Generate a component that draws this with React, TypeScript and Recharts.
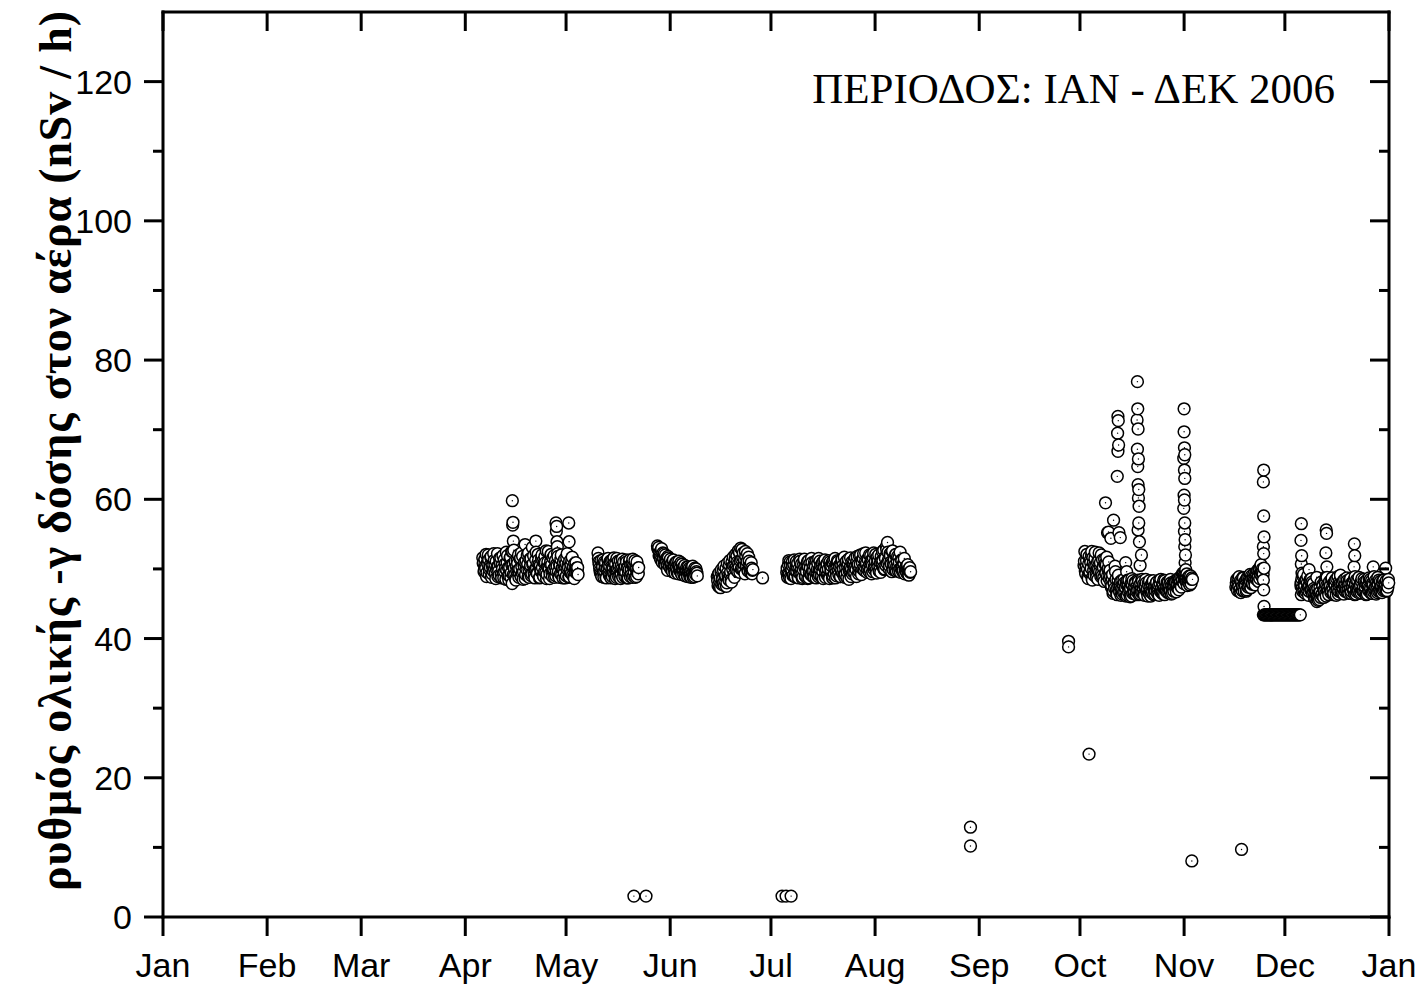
import React from "react";
import { ScatterChart, Scatter, XAxis, YAxis } from "recharts";

// x = day of year 2006 (0 = 1 Jan), y = dose rate in nSv/h
const monthTicks = [0, 31, 59, 90, 120, 151, 181, 212, 243, 273, 304, 334, 365];
const monthLabels = ["Jan", "Feb", "Mar", "Apr", "May", "Jun", "Jul", "Aug", "Sep", "Oct", "Nov", "Dec", "Jan"];
const doseTicks = [0, 10, 20, 30, 40, 50, 60, 70, 80, 90, 100, 110, 120];

// continuous runs of readings, every 6 hours (A) and the 3-hour readings in between (B)
const aprValues = [
  51.6, 50.9, 49.8, 50.4, 52.1, 49.5, 50.7, 51.3, 49.9, 50.2, 51.8, 49.3, 50.6, 52.2, 50.0, 49.4,
  51.1, 50.3, 48.9, 49.7, 51.5, 50.8, 49.2, 50.5, 51.9, 48.7, 49.6, 50.1, 52.4, 50.9, 49.0, 48.4,
  50.2, 51.7, 49.5, 47.9, 50.6, 52.7, 49.1, 48.6, 50.4, 51.2, 49.8, 48.8, 50.0, 51.6, 52.3, 49.4,
  48.5, 50.7, 51.0, 49.2, 50.3, 52.0, 48.9, 49.9, 51.4, 50.5, 49.0, 53.1, 50.8, 49.6, 48.7, 51.3,
  50.1, 49.3, 52.1, 50.6, 48.8, 49.7, 51.5, 50.2, 49.1, 50.9, 51.8, 49.5, 48.6, 50.4, 52.5, 50.0,
  49.3, 51.1, 50.6, 48.9, 49.8, 51.9, 50.3, 49.0, 50.7, 52.2, 49.6, 48.8, 50.5, 51.4, 49.2, 50.1,
  51.0, 49.4, 48.7, 50.8, 51.6, 49.9, 50.2, 48.9, 49.5, 50.6, 51.2, 49.1, 50.3, 48.6, 49.8, 50.9,
  49.4, 50.2,
];
const aprValuesB = [
  50.8, 49.6, 51.4, 50.1, 48.9, 51.0, 52.0, 49.3, 50.5, 51.7, 48.8, 50.3, 49.7, 51.2, 50.6, 48.6,
  49.9, 52.2, 50.4, 49.1, 50.9, 51.6, 48.7, 50.0, 49.4, 51.3, 50.7, 48.5, 49.8, 51.9, 50.2, 49.0,
  51.5, 48.8, 50.6, 52.5, 49.2, 50.1, 51.1, 48.4, 49.7, 50.8, 52.0, 49.5, 51.4, 48.9, 50.3, 51.8,
  49.6, 50.4, 48.6, 51.2, 49.9, 50.7, 52.3, 48.8, 50.2, 51.5, 49.3, 50.6, 51.9, 49.1, 50.0, 52.4,
  49.4, 50.8, 51.3, 48.7, 50.5, 49.8, 52.0, 51.1, 48.9, 49.6, 50.9, 52.6, 49.2, 51.0, 50.3, 48.6,
  50.7, 52.1, 49.5, 51.6, 50.0, 48.8, 51.2, 49.7, 50.4, 51.8, 48.9, 50.6, 49.3, 52.0, 50.1, 48.7,
  49.9, 51.4, 50.3, 49.0, 52.2, 50.5, 48.8, 51.1, 50.0, 49.4, 51.7, 50.2, 48.9, 50.8, 49.5, 50.1,
  49.7, 49.2,
];
const mayValues = [
  52.3, 51.0, 50.1, 49.4, 49.2, 50.6, 51.3, 48.8, 49.6, 50.9, 48.7, 50.2, 51.5, 49.5, 50.4, 49.0,
  51.2, 48.9, 50.0, 51.6, 49.3, 50.7, 48.8, 49.8, 51.1, 50.3, 49.1, 48.6, 50.5, 51.4, 49.7, 50.0,
  48.9, 49.5, 51.0, 50.2, 48.7, 49.9, 51.3, 50.6, 49.2, 48.8, 50.4, 49.6, 51.2, 50.1, 48.9, 49.7,
  49.3,
];
const mayValuesB = [
  51.5, 50.6, 49.7, 51.2, 48.9, 50.3, 49.5, 51.0, 50.2, 48.8, 49.9, 51.4, 50.5, 49.1, 51.1, 48.7,
  50.0, 51.3, 49.4, 50.8, 48.6, 49.7, 51.5, 50.1, 48.9, 50.6, 51.2, 49.3, 50.0, 48.8, 51.0, 49.6,
  50.4, 51.3, 48.7, 50.1, 49.5, 51.1, 48.9, 49.8, 50.7, 51.4, 49.0, 50.3, 48.8, 49.9, 51.0, 49.4,
  50.2,
];
const junValues = [
  53.3, 52.8, 51.9, 52.4, 51.3, 52.9, 50.9, 51.7, 52.2, 50.6, 51.4, 51.0, 49.8, 51.6, 50.4, 51.1,
  50.0, 50.8, 49.6, 51.3, 50.2, 49.4, 50.7, 51.0, 49.9, 49.3, 50.5, 49.7, 50.9, 49.2, 50.1, 49.6,
  50.4, 49.0, 49.8, 50.3, 48.9, 49.5, 50.1, 49.2, 48.8, 49.9, 50.4, 49.1, 48.9, 49.6, 50.0, 49.4,
];
const junValuesB = [
  52.9, 53.1, 52.2, 51.6, 52.7, 51.1, 52.3, 51.5, 50.8, 52.0, 51.2, 50.5, 51.8, 50.9, 50.3, 51.4,
  50.6, 49.9, 51.2, 50.4, 49.7, 50.9, 50.1, 49.5, 50.6, 51.1, 49.8, 50.3, 49.4, 50.7, 49.9, 49.2,
  50.5, 49.6, 50.0, 49.1, 50.3, 49.7, 48.9, 49.9, 50.2, 49.3, 48.8, 49.7, 50.1, 49.2, 49.6, 49.0,
];
const junLateValues = [
  48.9, 47.6, 49.4, 48.2, 47.3, 49.9, 48.6, 47.9, 50.4, 48.3, 49.1, 47.5, 50.8, 49.0, 48.4, 51.2,
  49.6, 48.1, 50.3, 51.7, 49.2, 50.6, 52.1, 49.8, 51.0, 52.6, 50.2, 49.5, 53.0, 51.4, 50.0, 52.3,
  50.7, 49.3, 51.8, 50.4, 52.2, 49.7, 51.1, 50.5, 49.4, 50.1, 49.8,
];
const junLateValuesB = [
  48.3, 49.2, 47.4, 48.7, 49.6, 47.8, 48.5, 49.8, 47.6, 48.9, 50.1, 48.0, 49.5, 48.6, 50.6, 49.2,
  48.4, 51.0, 49.9, 50.5, 48.8, 51.5, 50.3, 51.9, 49.6, 50.8, 52.4, 51.2, 50.0, 52.8, 51.6, 49.9,
  51.3, 52.5, 50.6, 51.1, 49.8, 51.7, 50.2, 49.6, 50.9, 49.3, 49.9,
];
const julValues = [
  49.5, 48.8, 50.6, 49.2, 51.0, 48.6, 49.9, 50.4, 49.1, 51.3, 48.9, 50.2, 49.6, 50.8, 48.7, 49.4,
  51.1, 50.0, 49.3, 48.8, 50.7, 51.4, 49.0, 49.8, 50.5, 48.6, 51.2, 49.5, 50.1, 49.2, 50.9, 48.9,
  49.7, 51.0, 50.3, 48.7, 49.4, 50.8, 51.5, 49.1, 50.0, 48.9, 50.6, 49.6, 51.1, 50.2, 48.8, 49.9,
  50.7, 49.3, 51.2, 48.6, 50.4, 49.8, 50.9, 49.0, 51.3, 50.1, 48.7, 49.5, 50.6, 51.0, 49.2, 50.3,
  48.9, 49.7, 51.4, 50.5, 49.1, 48.8, 50.2, 51.1, 49.6, 50.8, 48.5, 49.9, 51.6, 50.0, 49.3, 50.7,
  51.2, 49.4, 50.4, 48.9, 51.8, 50.6, 49.7, 50.1, 52.0, 49.2, 50.9, 51.5, 49.8, 50.3, 52.3, 50.8,
  50.0, 51.3, 49.6, 50.7, 51.9, 49.3, 50.5, 51.6, 49.9, 50.2, 52.1, 49.4, 50.8, 51.2, 49.7, 50.4,
  49.5, 51.1, 52.5, 50.2, 49.9, 51.7, 50.5, 52.8, 53.8, 51.3, 50.0, 52.2, 51.0, 49.6, 52.6, 50.7,
  51.4, 49.8, 52.1, 50.4, 51.8, 49.7, 50.9, 52.4, 50.1, 51.2, 49.6, 50.8, 51.5, 49.9, 50.3, 49.4,
  50.6, 49.2, 50.0, 49.5,
];
const julValuesB = [
  50.1, 49.3, 51.2, 48.7, 50.5, 49.8, 51.0, 49.0, 50.6, 48.9, 49.7, 51.1, 50.3, 48.8, 50.0, 51.4,
  49.4, 50.7, 48.6, 49.9, 51.3, 50.2, 48.9, 49.6, 51.0, 50.4, 48.7, 50.8, 49.2, 51.5, 49.7, 50.3,
  48.8, 50.6, 49.4, 51.2, 50.0, 48.9, 49.8, 51.1, 50.5, 49.0, 50.9, 48.6, 50.2, 51.3, 49.5, 50.7,
  49.1, 50.0, 48.8, 51.0, 49.6, 50.4, 48.7, 50.8, 49.3, 51.5, 50.1, 49.0, 51.2, 49.7, 50.5, 48.9,
  50.6, 51.2, 49.4, 50.0, 51.7, 49.2, 50.9, 48.8, 50.4, 51.4, 49.7, 50.2, 48.9, 51.0, 50.6, 49.5,
  50.3, 51.6, 49.9, 51.1, 50.5, 49.3, 51.9, 50.7, 49.6, 51.3, 50.0, 52.2, 49.8, 51.0, 50.6, 49.5,
  51.5, 50.2, 52.0, 49.8, 50.9, 51.4, 49.6, 52.3, 50.4, 51.1, 49.9, 51.7, 50.3, 52.0, 49.7, 50.9,
  51.8, 50.6, 51.2, 52.7, 50.0, 51.5, 53.2, 50.8, 52.4, 51.0, 50.4, 51.9, 50.7, 52.5, 49.9, 51.3,
  50.5, 52.0, 49.7, 51.1, 50.3, 51.6, 50.0, 49.5, 51.3, 50.2, 49.8, 50.7, 49.3, 50.1, 49.6, 50.4,
  49.8, 49.1, 50.2, 49.6,
];
const octValues = [
  50.5, 52.5, 49.3, 51.2, 50.0, 48.6, 51.8, 49.6, 50.9, 52.0, 48.4, 50.8, 49.1, 51.5, 50.4, 48.8,
  51.0, 49.9, 52.3, 50.6, 48.9, 49.5, 51.3, 50.2, 48.2, 50.7, 49.4, 51.7, 49.0, 50.1, 48.6, 49.8,
  48.1, 47.6, 49.2, 46.8, 47.9, 50.4, 48.5, 46.4, 47.3, 49.1, 46.9, 47.8, 46.2, 48.3, 47.0, 46.6,
  48.0, 47.4, 46.1, 47.7, 48.4, 46.7, 47.2, 46.0, 47.9, 48.6, 46.5, 47.1, 46.8, 48.1, 46.3, 47.5,
  46.9, 48.2, 47.6, 46.4, 47.0, 48.5, 46.6, 47.8, 46.2, 47.3, 48.0, 46.7, 46.1, 47.6, 48.3, 46.8,
  46.6, 47.9, 48.2, 46.3, 47.5, 46.9, 48.0, 47.2, 46.4, 47.7, 48.4, 46.8,
  47.2, 46.5, 47.9, 48.4, 46.3, 47.0, 46.9, 48.1, 47.4, 46.6, 47.7, 48.5, 46.4, 47.1, 48.0, 46.8,
  47.5, 48.2, 46.7, 47.3, 48.6, 47.0, 47.8, 48.9, 47.4, 48.3, 49.2, 47.9, 48.7, 49.5, 48.1, 47.6,
  48.8, 48.4, 47.7, 49.0, 48.5,
];
const octValuesB = [
  51.1, 49.7, 50.4, 52.1, 48.9, 50.7, 49.4, 51.3, 50.1, 48.7, 51.6, 49.8, 50.5, 52.4, 49.2, 50.0,
  48.5, 51.2, 49.6, 50.9, 52.0, 49.0, 50.3, 48.8, 51.4, 49.5, 50.6, 48.3, 49.9, 51.0, 49.3, 48.9,
  47.4, 48.6, 46.5, 48.0, 47.2, 49.6, 47.0, 46.3, 48.4, 47.6, 46.7, 48.2, 47.1, 46.4, 47.8, 48.5,
  46.6, 47.3, 48.1, 46.2, 47.5, 48.4, 46.9, 47.2, 46.1, 47.7, 48.3, 46.5, 47.4, 48.0, 46.8, 47.1,
  48.4, 46.3, 47.0, 47.9, 46.6, 48.2, 47.3, 46.4, 47.6, 48.5, 46.9, 47.2, 48.0, 46.5, 47.4, 46.1,
  47.8, 46.7, 48.3, 47.1, 46.4, 47.6, 48.1, 46.8, 47.3, 46.2, 47.9, 48.5,
  46.7, 47.8, 46.4, 47.2, 48.3, 46.9, 47.5, 46.6, 48.1, 47.3, 46.8, 48.0, 47.6, 46.5, 47.4, 48.2,
  48.0, 47.1, 48.4, 47.7, 47.2, 48.6, 48.1, 47.6, 48.9, 49.4, 48.0, 49.1, 48.4, 48.8, 49.3, 48.2,
  48.1, 49.0, 48.6, 47.9, 48.7,
];
const novValues = [
  47.4, 48.5, 46.9, 47.8, 48.9, 47.1, 46.6, 48.2, 47.5, 48.7, 46.8, 47.9, 48.4, 47.0, 48.8, 47.6,
  48.1, 49.2, 47.3, 48.6, 47.9, 49.0, 48.3, 47.7, 49.4, 48.5, 49.8, 48.2, 50.1, 49.3, 50.6, 48.9,
  49.6,
];
const novValuesB = [
  48.0, 47.2, 48.6, 47.5, 46.7, 48.3, 47.9, 46.9, 48.8, 47.3, 48.1, 47.6, 46.8, 48.5, 47.4, 48.9,
  47.7, 48.2, 49.0, 47.8, 48.7, 49.3, 48.0, 49.1, 48.5, 49.6, 48.8, 49.9, 48.6, 50.3, 49.5, 50.0,
  49.2,
];
const novFlatValues = [
  43.4, 43.4, 43.4, 43.4, 43.4, 43.4, 43.4, 43.4, 43.4, 43.4, 43.4, 43.4, 43.4, 43.4, 43.4, 43.4,
  43.4, 43.4, 43.4, 43.4, 43.4, 43.4, 43.4, 43.4, 43.4, 43.4, 43.4, 43.4, 43.4, 43.4, 43.4, 43.4,
  43.4, 43.4, 43.4, 43.4, 43.4, 43.4, 43.4, 43.4, 43.4, 43.4, 43.4, 43.4, 43.4,
];
const decValues = [
  47.5, 48.6, 46.8, 49.2, 47.9, 46.5, 48.3, 47.1, 49.0, 46.2, 47.7, 48.5, 46.9, 48.1, 47.3, 46.6,
  45.8, 47.0, 46.4, 45.3, 47.2, 46.0, 45.6, 46.7, 48.1, 46.3, 47.5, 45.9, 46.8, 47.9, 46.1, 48.8,
  47.4, 46.3, 48.2, 47.6, 46.9, 48.7, 47.0, 46.5, 47.8, 48.4, 46.2, 47.3, 48.9, 46.8, 47.5, 49.1,
  46.6, 48.0, 47.2, 46.4, 48.5, 47.7, 46.9, 48.3, 47.0, 46.5, 47.9, 48.6, 46.8, 47.4, 48.1, 47.0,
  46.3, 47.8, 48.4, 46.7, 47.1, 48.8, 46.5, 47.6, 48.2, 46.9, 47.3, 48.5, 46.6, 47.9, 48.0, 46.4,
  47.5, 48.7, 46.8, 47.2, 48.3, 46.5, 47.7, 48.9, 46.9, 47.4, 48.1, 46.6, 47.8, 48.4, 47.0, 46.7,
  47.6, 48.2, 46.9, 47.3, 48.0, 47.1, 46.8, 47.9, 48.5,
];
const decValuesB = [
  48.1, 47.2, 48.9, 46.9, 47.6, 48.4, 46.7, 48.0, 47.4, 46.8, 48.3, 47.0, 48.6, 46.5, 47.9, 47.2,
  46.4, 45.7, 46.9, 46.1, 45.5, 46.6, 47.4, 45.9, 46.3, 47.7, 46.0, 47.0, 48.3, 46.5, 47.6, 47.1,
  46.8, 48.0, 47.3, 46.6, 48.5, 47.4, 46.3, 48.1, 47.7, 46.9, 48.6, 47.1, 46.4, 48.2, 47.9, 46.7,
  47.8, 46.5, 48.3, 47.6, 46.8, 47.2, 48.7, 46.6, 47.9, 48.4, 47.1, 46.5, 48.0, 47.3, 46.9, 48.5,
  47.7, 46.4, 47.2, 48.3, 46.8, 47.5, 47.9, 46.6, 48.6, 47.0, 46.7, 48.1, 47.4, 46.3, 48.4, 47.6,
  46.9, 47.3, 48.5, 46.5, 47.8, 48.0, 46.7, 47.2, 48.3, 46.4, 47.6, 48.8, 46.8, 47.1, 48.2, 47.5,
  46.6, 47.9, 48.4, 47.0, 47.6, 48.3, 46.9, 47.4, 48.0,
];

// [first day, values]; consecutive values are 0.25 day apart
const runs: [number, number[]][] = [
  [95.2, aprValues],
  [95.325, aprValuesB],
  [129.5, mayValues],
  [129.625, mayValuesB],
  [147.2, junValues],
  [147.325, junValuesB],
  [165.0, junLateValues],
  [165.125, junLateValuesB],
  [185.7, julValues],
  [185.825, julValuesB],
  [274.2, octValues],
  [274.325, octValuesB],
  [319.4, novValues],
  [319.525, novValuesB],
  [327.6, novFlatValues],
  [338.8, decValues],
  [338.925, decValuesB],
];

// single readings: [day, value]
const aprSpikes = [
  [104.0, 59.8], [104.2, 56.7], [104.1, 56.3], [104.3, 54.0], [103.8, 52.5], [107.8, 53.5],
  [111.0, 54.0], [115.5, 52.0], [117.0, 56.6], [117.2, 56.1], [117.1, 55.4], [117.3, 53.9],
  [117.4, 53.2], [120.8, 56.6], [120.9, 53.9],
];
const octSpikes = [
  [276.5, 52.5], [280.6, 59.5], [281.2, 55.2], [281.5, 55.3], [282.2, 54.4], [283.0, 57.0],
  [284.1, 63.3], [284.2, 69.5], [284.3, 71.9], [284.4, 71.3], [284.5, 67.8], [284.3, 66.9],
  [284.6, 55.2], [285.0, 54.5], [286.6, 50.9], [286.9, 49.6],
  [290.0, 71.4], [290.1, 76.9], [290.2, 73.0], [290.3, 70.1], [290.1, 67.2], [290.4, 65.8],
  [290.2, 64.7], [290.3, 62.1], [290.5, 61.4], [290.4, 60.2], [290.6, 59.0], [290.5, 56.6],
  [290.3, 55.6], [290.7, 53.9], [291.3, 52.0], [290.9, 50.5],
  [303.9, 58.7], [304.0, 73.0], [304.0, 69.7], [304.1, 67.4], [304.2, 66.4], [303.9, 65.9],
  [304.1, 64.2], [304.2, 63.0], [304.0, 60.6], [304.1, 59.9], [304.2, 56.6], [304.1, 55.4],
  [304.3, 54.2], [304.2, 53.2], [304.4, 52.0], [304.3, 50.9], [304.5, 49.9], [306.5, 48.5],
];
const novSpikes = [
  [327.6, 62.5], [327.7, 64.2], [327.7, 57.6], [327.8, 54.6], [327.6, 53.2], [327.7, 52.2],
  [327.8, 50.1], [327.6, 48.4], [327.7, 47.0], [327.8, 44.6],
];
const decSpikes = [
  [338.9, 56.5], [338.8, 54.1], [339.0, 51.9], [338.9, 50.7], [339.1, 49.4], [338.8, 47.9],
  [338.9, 46.3], [341.2, 49.9], [343.5, 48.8], [346.3, 55.6], [346.4, 55.1], [346.2, 52.3],
  [346.5, 50.3], [346.3, 48.9], [354.7, 53.6], [354.8, 51.9], [354.6, 50.3], [354.9, 48.9],
  [360.3, 50.3], [364.0, 50.1],
];
const outliers = [
  [140.2, 3.0], [143.8, 3.0], [178.5, 48.7], [184.3, 3.0], [185.5, 3.0], [187.0, 3.0],
  [240.4, 12.9], [240.4, 10.2], [269.6, 39.6], [269.6, 38.8], [275.7, 23.4], [306.3, 8.05],
  [321.1, 9.7],
];

const points = [
  ...runs.flatMap(([start, vals]) => vals.map((v, i) => ({ day: start + i * 0.25, dose: v }))),
  ...[...aprSpikes, ...octSpikes, ...novSpikes, ...decSpikes, ...outliers].map(([d, v]) => ({ day: d, dose: v })),
].sort((a, b) => a.day - b.day);

const sans = "'Liberation Sans', Arial, sans-serif";
const serif = "'Liberation Serif', 'Times New Roman', serif";
const axisLine = { stroke: "#000", strokeWidth: 3, strokeLinecap: "square" as const };

const Marker = (p: any) => (
  <g>
    <circle cx={p.cx} cy={p.cy} r={5.9} fill="#fff" stroke="#000" strokeWidth={1.5} />
    <circle cx={p.cx} cy={p.cy} r={0.7} fill="#000" />
  </g>
);
const Nothing = () => <g />;

const LeftTick = ({ x, y, payload }: any) => {
  const major = payload.value % 20 === 0;
  return (
    <g>
      <line x1={x - (major ? 19 : 10)} x2={x} y1={y} y2={y} stroke="#000" strokeWidth={3} />
      {major && (
        <text x={x - 31} y={y + 12} textAnchor="end" fontSize={34} fontFamily={sans} fill="#000">
          {payload.value}
        </text>
      )}
    </g>
  );
};

const RightTick = ({ x, y, payload }: any) => {
  const major = payload.value % 20 === 0;
  return <line x1={x - (major ? 19 : 10)} x2={x} y1={y} y2={y} stroke="#000" strokeWidth={3} />;
};

const BottomTick = ({ x, y, payload, index }: any) => (
  <g>
    <line x1={x} x2={x} y1={y} y2={y + 19} stroke="#000" strokeWidth={3} />
    <text x={x} y={y + 60} textAnchor="middle" fontSize={34} fontFamily={sans} fill="#000">
      {monthLabels[index] ?? payload.value}
    </text>
  </g>
);

const TopTick = ({ x, y }: any) => (
  <line x1={x} x2={x} y1={y} y2={y + 19} stroke="#000" strokeWidth={3} />
);

export default function App() {
  return (
    <div style={{ position: "absolute", left: 0, top: 0, width: 1427, height: 989, background: "#fff" }}>
      <ScatterChart width={1427} height={989} margin={{ top: 11, right: 37, bottom: 0, left: 0 }}>
        <XAxis
          dataKey="day"
          type="number"
          domain={[0, 365]}
          ticks={monthTicks}
          interval={0}
          height={72}
          tickSize={0}
          tickMargin={0}
          tickLine={false}
          axisLine={axisLine}
          tick={<BottomTick />}
        />
        <XAxis
          xAxisId="top"
          dataKey="day"
          orientation="top"
          type="number"
          domain={[0, 365]}
          ticks={monthTicks}
          interval={0}
          height={1}
          tickSize={0}
          tickMargin={0}
          tickLine={false}
          axisLine={axisLine}
          tick={<TopTick />}
        />
        <YAxis
          dataKey="dose"
          type="number"
          domain={[0, 130]}
          ticks={doseTicks}
          interval={0}
          width={163}
          tickSize={0}
          tickMargin={0}
          tickLine={false}
          axisLine={axisLine}
          tick={<LeftTick />}
        />
        <YAxis
          yAxisId="right"
          dataKey="dose"
          orientation="right"
          type="number"
          domain={[0, 130]}
          ticks={doseTicks}
          interval={0}
          width={1}
          tickSize={0}
          tickMargin={0}
          tickLine={false}
          axisLine={axisLine}
          tick={<RightTick />}
        />
        <Scatter data={points} xAxisId="top" yAxisId="right" isAnimationActive={false} shape={<Nothing />} />
        <Scatter data={points} fill="#fff" isAnimationActive={false} shape={<Marker />} />
      </ScatterChart>
      <svg width={1427} height={989} style={{ position: "absolute", left: 0, top: 0, pointerEvents: "none" }}>
        <text x={1335} y={103} textAnchor="end" fontSize={43} fontFamily={serif} fill="#000">
          ΠΕΡΙΟΔΟΣ: ΙΑΝ - ΔΕΚ 2006
        </text>
        <text
          transform="translate(71, 451) rotate(-90)"
          textAnchor="middle"
          fontSize={46}
          fontWeight="bold"
          fontFamily={serif}
          textLength={880}
          lengthAdjust="spacing"
          fill="#000"
        >
          ρυθμός ολικής -γ δόσης στον αέρα (nSv / h)
        </text>
      </svg>
    </div>
  );
}
